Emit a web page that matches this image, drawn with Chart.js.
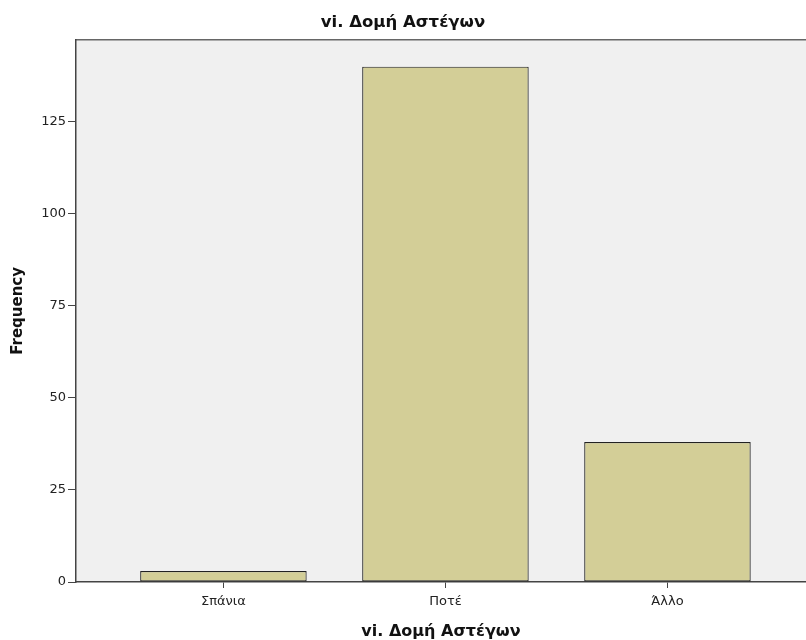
<!DOCTYPE html>
<html>
<head>
<meta charset="utf-8">
<script src="https://cdn.jsdelivr.net/npm/chart.js@4.4.1/dist/chart.umd.min.js"></script>
<style>
  html, body { margin: 0; padding: 0; background: #ffffff; }
  #wrap { width: 806px; height: 640px; position: relative; }
</style>
</head>
<body>
<div id="wrap"><canvas id="chart"></canvas></div>
<script>
  // Datos
  const categories = ["Σπάνια", "Ποτέ", "Άλλο"];
  const frequencies = [3, 140, 38];
  const yTicks = [0, 25, 50, 75, 100, 125];

  const TITLE = "vi. Δομή Αστέγων";
  const FONT = '"DejaVu Sans", Verdana, sans-serif';
  const AXIS = "#444444";

  // Fondo gris del área del gráfico + borde superior
  const plotBg = {
    id: "plotBg",
    beforeDraw: function (chart) {
      const a = chart.chartArea;
      const ctx = chart.ctx;
      ctx.save();
      ctx.fillStyle = "#f0f0f0";
      ctx.fillRect(a.left, a.top, a.right - a.left, a.bottom - a.top);
      ctx.strokeStyle = "#666666";
      ctx.lineWidth = 1.5;
      ctx.beginPath();
      ctx.moveTo(a.left, a.top);
      ctx.lineTo(a.right, a.top);
      ctx.stroke();
      ctx.restore();
    }
  };

  new Chart(document.getElementById("chart"), {
    type: "bar",
    data: {
      datasets: [{
        data: frequencies.map(function (v, i) { return { x: i, y: v }; }),
        backgroundColor: "#d3ce97",
        borderColor: "#222222",
        borderWidth: 1.2,
        borderSkipped: false,
        barPercentage: 0.75,
        categoryPercentage: 1
      }]
    },
    options: {
      responsive: true,
      maintainAspectRatio: false,
      animation: false,
      layout: { padding: { left: 0, right: 0, top: 0, bottom: 0 } },
      plugins: {
        legend: { display: false },
        tooltip: { enabled: false },
        title: {
          display: true,
          text: TITLE,
          color: "#111111",
          font: { family: FONT, size: 16.5, weight: "bold", lineHeight: 1.2 },
          padding: { top: 13, bottom: 7 }
        }
      },
      scales: {
        x: {
          type: "linear",
          offset: false,
          min: -0.664,
          max: 2.624,
          afterBuildTicks: function (axis) {
            axis.ticks = categories.map(function (c, i) { return { value: i }; });
          },
          afterFit: function (axis) { axis.height = 58; },
          ticks: {
            color: "#222222",
            font: { family: FONT, size: 13 },
            padding: 6,
            maxRotation: 0,
            callback: function (v) { return categories[v]; }
          },
          grid: { offset: false, drawOnChartArea: false, drawTicks: true, tickLength: 6, color: AXIS },
          border: { color: AXIS, width: 1.5 },
          title: {
            display: true,
            text: TITLE,
            color: "#111111",
            font: { family: FONT, size: 16, weight: "bold", lineHeight: 1 },
            padding: { top: 8, bottom: 0 }
          }
        },
        y: {
          min: 0,
          max: 147.3,
          afterBuildTicks: function (axis) {
            axis.ticks = yTicks.map(function (v) { return { value: v }; });
          },
          afterFit: function (axis) { axis.width = 76; },
          ticks: {
            color: "#222222",
            font: { family: FONT, size: 13 },
            padding: 2
          },
          grid: { drawOnChartArea: false, drawTicks: true, tickLength: 8, color: AXIS },
          border: { color: AXIS, width: 1.5 },
          title: {
            display: true,
            text: "Frequency",
            color: "#111111",
            font: { family: FONT, size: 15, weight: "bold" },
            padding: { top: 9, bottom: 0 }
          }
        }
      }
    },
    plugins: [plotBg]
  });
</script>
</body>
</html>
